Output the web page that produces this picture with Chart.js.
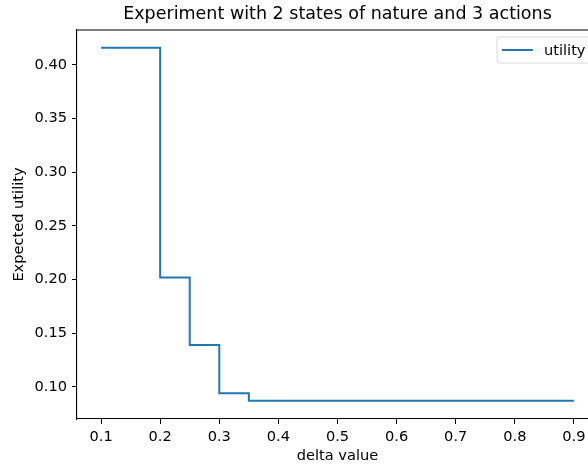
<!DOCTYPE html>
<html lang="en">
<head>
    <meta charset="UTF-8">
    <title>Expected utility</title>
    <script src="https://cdn.jsdelivr.net/npm/chart.js"></script>
    <style>
        html, body { margin: 0; padding: 0; background: #fff; overflow: hidden; }
        .wrap { width: 612px; height: 466px; position: relative; }
    </style>
</head>
<body>
    <div class="wrap">
        <canvas id="utilityChart"></canvas>
    </div>

    <script>
        // Data
        const deltas = [0.1, 0.15, 0.2, 0.25, 0.3, 0.35, 0.4, 0.45, 0.5, 0.55, 0.6, 0.65, 0.7, 0.75, 0.8, 0.85, 0.9];
        const utility = [0.416, 0.416, 0.202, 0.139, 0.094, 0.087, 0.087, 0.087, 0.087, 0.087, 0.087, 0.087, 0.087, 0.087, 0.087, 0.087, 0.087];
        const xTicks = [0.1, 0.2, 0.3, 0.4, 0.5, 0.6, 0.7, 0.8, 0.9];
        const yTicks = [0.10, 0.15, 0.20, 0.25, 0.30, 0.35, 0.40];

        const FONT = 'DejaVu Sans';
        const TICK_SIZE = 14.6;

        // matplotlib-like legend box in the upper right of the axes
        const boxLegend = {
            id: 'boxLegend',
            afterDraw(chart) {
                const ctx = chart.ctx;
                const area = chart.chartArea;
                const ds = chart.data.datasets[0];
                const w = 96, h = 26;
                const x = area.right - 5 - w;
                const y = area.top + 7;
                ctx.save();
                ctx.beginPath();
                ctx.roundRect(x, y, w, h, 3);
                ctx.fillStyle = 'rgba(255,255,255,0.8)';
                ctx.fill();
                ctx.strokeStyle = '#d6d6d6';
                ctx.lineWidth = 1;
                ctx.stroke();
                ctx.beginPath();
                ctx.moveTo(x + 5, y + h / 2);
                ctx.lineTo(x + 36, y + h / 2);
                ctx.strokeStyle = ds.borderColor;
                ctx.lineWidth = 2;
                ctx.stroke();
                ctx.fillStyle = '#000';
                ctx.font = TICK_SIZE + 'px ' + FONT;
                ctx.textBaseline = 'middle';
                ctx.fillText(ds.label, x + 47, y + h / 2 + 1);
                ctx.restore();
            }
        };

        // top and right spines
        const frame = {
            id: 'frame',
            afterDraw(chart) {
                const ctx = chart.ctx;
                const a = chart.chartArea;
                ctx.save();
                ctx.strokeStyle = '#000';
                ctx.lineWidth = 1.1;
                ctx.beginPath();
                ctx.moveTo(a.left, a.top);
                ctx.lineTo(a.right, a.top);
                ctx.lineTo(a.right, a.bottom);
                ctx.stroke();
                ctx.restore();
            }
        };

        const ctx = document.getElementById('utilityChart').getContext('2d');
        new Chart(ctx, {
            type: 'line',
            data: {
                datasets: [{
                    label: 'utility',
                    data: deltas.map((d, i) => ({ x: d, y: utility[i] })),
                    borderColor: '#1f77b4',
                    borderWidth: 2,
                    pointRadius: 0,
                    stepped: 'before',
                    fill: false
                }]
            },
            options: {
                responsive: true,
                maintainAspectRatio: false,
                devicePixelRatio: 1,
                animation: false,
                layout: { padding: { left: 0, right: 14, top: 0, bottom: 0 } },
                plugins: {
                    legend: { display: false },
                    tooltip: { enabled: false },
                    title: {
                        display: true,
                        text: 'Experiment with 2 states of nature and 3 actions',
                        fullSize: false,
                        color: '#000',
                        font: { family: FONT, size: 17.5, weight: 'normal' },
                        padding: { top: 4, bottom: 5 }
                    }
                },
                scales: {
                    x: {
                        type: 'linear',
                        min: 0.0593,
                        max: 0.9407,
                        afterBuildTicks: s => { s.ticks = xTicks.map(v => ({ value: v })); },
                        afterFit: s => { s.height = 47; },
                        grid: { drawOnChartArea: false, drawTicks: true, tickLength: 5, color: '#000' },
                        border: { display: true, color: '#000', width: 1.1 },
                        ticks: {
                            color: '#000',
                            padding: 4,
                            maxRotation: 0,
                            font: { family: FONT, size: TICK_SIZE },
                            callback: v => v.toFixed(1)
                        },
                        title: {
                            display: true,
                            text: 'delta value',
                            color: '#000',
                            font: { family: FONT, size: TICK_SIZE },
                            padding: { top: 0, bottom: 1 }
                        }
                    },
                    y: {
                        type: 'linear',
                        min: 0.0701,
                        max: 0.4325,
                        afterBuildTicks: s => { s.ticks = yTicks.map(v => ({ value: v })); },
                        afterFit: s => { s.width = 77; },
                        grid: { drawOnChartArea: false, drawTicks: true, tickLength: 5, color: '#000' },
                        border: { display: true, color: '#000', width: 1.1 },
                        ticks: {
                            color: '#000',
                            padding: 5,
                            font: { family: FONT, size: TICK_SIZE },
                            callback: v => v.toFixed(2)
                        },
                        title: {
                            display: true,
                            text: 'Expected utility',
                            color: '#000',
                            font: { family: FONT, size: TICK_SIZE },
                            padding: { top: 10, bottom: 0 }
                        }
                    }
                }
            },
            plugins: [boxLegend, frame]
        });
    </script>
</body>
</html>
